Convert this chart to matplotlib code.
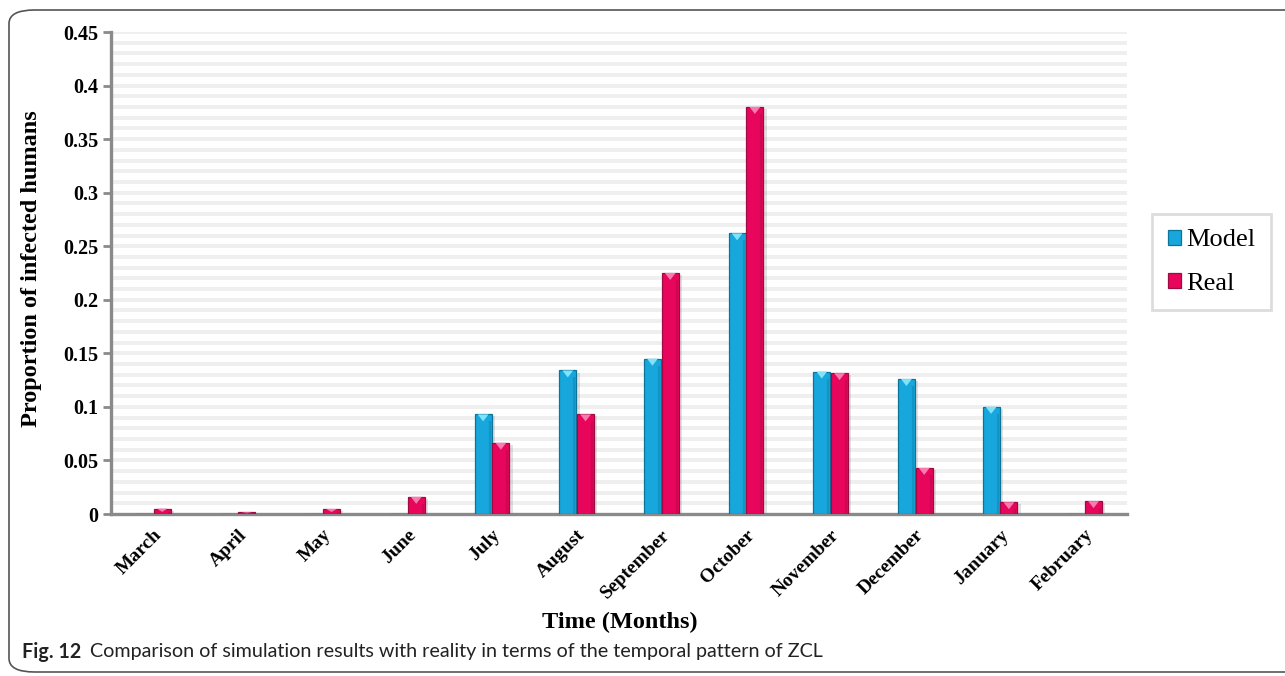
import numpy as np
import matplotlib
matplotlib.use("Agg")
import matplotlib.pyplot as plt
from matplotlib.patches import FancyBboxPatch, Polygon
import matplotlib.patheffects as pe

# ---- data ----
months = ["March", "April", "May", "June", "July", "August", "September",
          "October", "November", "December", "January", "February"]
model = [0.0, 0.0, 0.0, 0.0, 0.093, 0.134, 0.145, 0.262, 0.133, 0.126, 0.100, 0.0]
real = [0.005, 0.0016, 0.0047, 0.016, 0.0665, 0.093, 0.225, 0.380, 0.1315, 0.043, 0.011, 0.012]
y_ticks = [0, 0.05, 0.1, 0.15, 0.2, 0.25, 0.3, 0.35, 0.4, 0.45]
y_tick_labels = ["0", "0.05", "0.1", "0.15", "0.2", "0.25", "0.3", "0.35", "0.4", "0.45"]

serif = ["Liberation Serif", "DejaVu Serif"]
W, H = 1285, 676
fig = plt.figure(figsize=(W / 100, H / 100), dpi=100)

# rounded frame around the figure panel
frame = FancyBboxPatch((9 / W, 4 / H), 1.2, (H - 14) / H,
                       boxstyle="round,pad=0,rounding_size=0.02",
                       transform=fig.transFigure, fill=False,
                       edgecolor="#555555", linewidth=1.2, clip_on=False)
fig.patches.append(frame)

ax = fig.add_axes([111 / W, 1 - 514 / H, (1127 - 111) / W, (514 - 32) / H])
ax.set_xlim(-0.5, len(months) - 0.5)
ax.set_ylim(0, 0.45)

# light horizontal gridlines every 0.01
for g in np.arange(0.01, 0.4501, 0.01):
    ax.axhline(g, color="#efefef", linewidth=2.8, zorder=0)

x = np.arange(len(months))
bw = 0.2
off = 0.105

def bevel_bars(xs, vals, face, edge, light, label):
    bars = ax.bar(xs, vals, width=bw, color=face, edgecolor=edge,
                  linewidth=0.9, zorder=3, label=label)
    for b in bars:
        b.set_path_effects([pe.SimplePatchShadow(offset=(2.5, -1.5),
                                                 shadow_rgbFace="#888888",
                                                 alpha=0.25), pe.Normal()])
    # chamfer highlight at the top of every bar
    for xi, v in zip(xs, vals):
        if v <= 0:
            continue
        th = min(0.0065, v * 0.6)
        tri = Polygon([[xi - bw * 0.32, v], [xi + bw * 0.32, v], [xi, v - th]],
                      closed=True, facecolor=light, edgecolor="none", zorder=4)
        ax.add_patch(tri)
        ax.plot([xi + bw * 0.38, xi + bw * 0.38], [0, max(v - th, 0)],
                color=edge, linewidth=1.6, alpha=0.35, zorder=4,
                solid_capstyle="butt")
    return bars

bevel_bars(x - off, model, "#17a7dc", "#0c7399", "#7fe3fa", "Model")
bevel_bars(x + off, real, "#e8065c", "#9e0a41", "#f77bb0", "Real")

# axes styling
for s in ("top", "right"):
    ax.spines[s].set_visible(False)
for s in ("left", "bottom"):
    ax.spines[s].set_color("#8a8a8a")
    ax.spines[s].set_linewidth(2.4)

ax.set_yticks(y_ticks)
ax.set_yticklabels(y_tick_labels, fontfamily=serif, fontweight="bold", fontsize=14.5)
ax.tick_params(axis="y", direction="out", length=6, width=2, color="#8a8a8a", pad=3)
ax.set_xticks(x)
ax.set_xticklabels(months, fontfamily=serif, fontweight="bold", fontsize=14,
                   rotation=45, ha="right", va="top", rotation_mode="anchor")
ax.tick_params(axis="x", length=0, pad=9)

ax.set_ylabel("Proportion of infected humans", fontfamily=serif,
              fontweight="bold", fontsize=17.5)
ax.yaxis.set_label_coords(42 / W, 1 - 269 / H, transform=fig.transFigure)
fig.text(620 / W, 1 - 622 / H, "Time (Months)", fontfamily=serif,
         fontweight="bold", fontsize=17.5, ha="center", va="center")

leg = ax.legend(loc="center left", bbox_to_anchor=(1152 / W, 1 - 262 / H),
                bbox_transform=fig.transFigure, prop={"family": serif, "size": 19},
                frameon=True, fancybox=False, edgecolor="#d4d4d4",
                handlelength=0.5, handleheight=0.5, handletextpad=0.2,
                labelspacing=0.8, borderpad=0.6, borderaxespad=0)
leg.get_frame().set_linewidth(2)
for h in leg.legend_handles:
    h.set_path_effects([])

# caption
sans = ["Lato", "DejaVu Sans"]
cap = fig.text(22 / W, 1 - 652 / H, "Fig. 12", fontfamily=sans,
               fontweight="bold", fontsize=14.2, ha="left", va="center",
               color="#222222")
fig.canvas.draw()
bb = cap.get_window_extent()
fig.text((bb.x1 + 9) / W, 1 - 652 / H,
         "Comparison of simulation results with reality in terms of the temporal pattern of ZCL",
         fontfamily=sans, fontsize=14.2, ha="left", va="center", color="#222222")

fig.savefig("out.png", dpi=100)
